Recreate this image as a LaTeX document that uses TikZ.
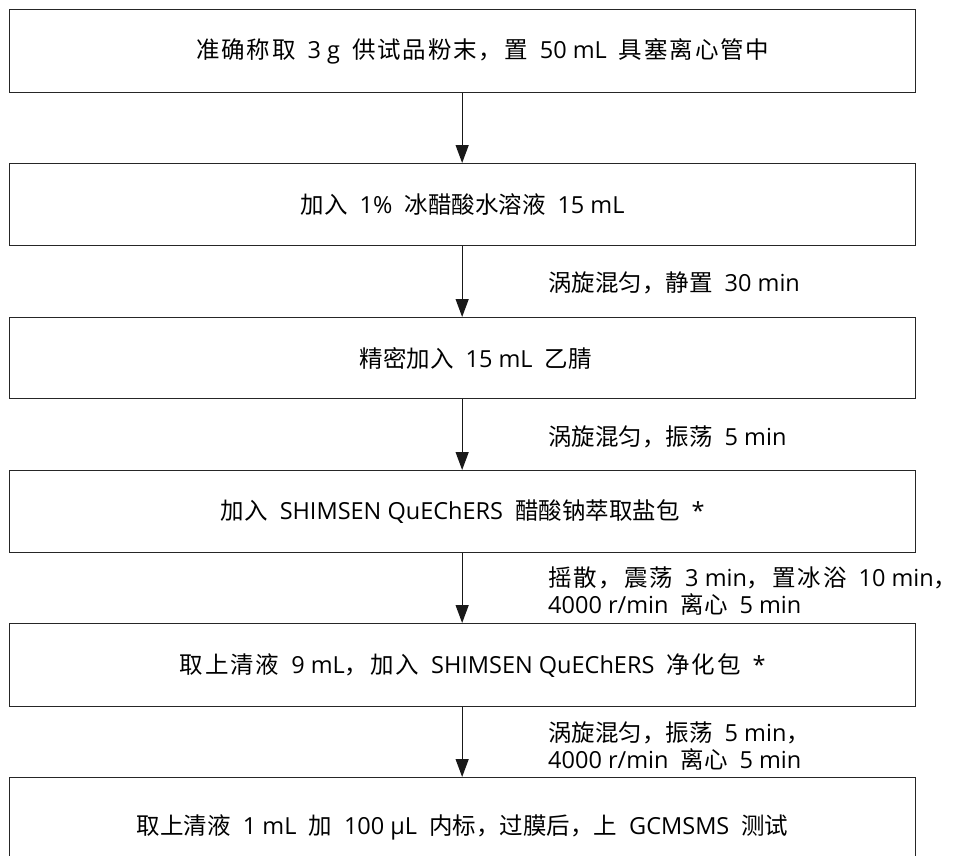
\documentclass[tikz,border=0pt]{standalone}
\usepackage{fontspec}
\setmainfont{Open Sans}
\newfontfamily\cjkfont{Noto Sans CJK SC}
\newfontfamily\cjkwide[LetterSpace=8]{Noto Sans CJK SC}
\newcommand{\zh}[1]{{\cjkfont #1}}
\newcommand{\zhw}[1]{{\cjkwide #1}}
\newcommand{\gap}{\hspace{12pt}}
\newcommand{\shiftr}[1]{\hspace*{#1}}
\usetikzlibrary{arrows.meta}
\begin{document}
\begin{tikzpicture}[x=1pt,y=-1pt,
  stepbox/.style={draw=black!85,line width=1.3pt,minimum width=906pt,inner sep=0pt,anchor=north west,font=\fontsize{23.5pt}{28pt}\selectfont},
  flow/.style={draw=black!90,line width=1.3pt,-{Triangle[length=18pt,width=13pt]}},
  lab/.style={anchor=west,inner sep=0pt,align=left,font=\fontsize{23.5pt}{26.5pt}\selectfont}]
\useasboundingbox (0,0) rectangle (966,856);
\node[stepbox,minimum height=83pt] (b1) at (9,9) {\shiftr{40pt}\zhw{准确称取}\gap 3 g\gap\zhw{供试品粉末，置}\gap 50 mL\gap\zhw{具塞离心管中}};
\node[stepbox,minimum height=82pt] (b2) at (9,163) {\zh{加入}\gap 1\%\gap\zh{冰醋酸水溶液}\gap 15 mL};
\node[stepbox,minimum height=81pt] (b3) at (9,317) {\shiftr{26pt}\zh{精密加入}\gap 15 mL\gap\zh{乙腈}};
\node[stepbox,minimum height=82pt] (b4) at (9,470) {\zh{加入}\gap SHIMSEN QuEChERS\gap\zh{醋酸钠萃取盐包}\gap *};
\node[stepbox,minimum height=83pt] (b5) at (9,623) {\shiftr{20pt}\zhw{取上清液}\gap 9 mL\zhw{，加入}\gap SHIMSEN QuEChERS\gap\zhw{净化包}\gap *};
\node[stepbox,minimum height=100pt] (b6) at (9,777) {\zh{取上清液}\gap 1 mL\gap\zh{加}\gap 100 μL\gap\zh{内标，过膜后，上}\gap GCMSMS\gap\zh{测试}};
\draw[flow] ([xshift=-0.5pt]b1.south) -- ([xshift=-0.5pt]b2.north);
\draw[flow] ([xshift=-0.5pt]b2.south) -- ([xshift=-0.5pt]b3.north);
\draw[flow] ([xshift=-0.5pt]b3.south) -- ([xshift=-0.5pt]b4.north);
\draw[flow] ([xshift=-0.5pt]b4.south) -- ([xshift=-0.5pt]b5.north);
\draw[flow] ([xshift=-0.5pt]b5.south) -- ([xshift=-0.5pt]b6.north);
\node[lab] (l2) at (548,283) {\zh{涡旋混匀，静置}\gap 30 min};
\node[lab] (l3) at (548,437) {\zh{涡旋混匀，振荡}\gap 5 min};
\node[lab] (l4) at (548,591) {\zhw{摇散，震荡}\gap 3 min\zhw{，置冰浴}\gap 10 min\zh{，}\\4000 r/min\gap\zh{离心}\gap 5 min};
\node[lab] (l5) at (548,746) {\zh{涡旋混匀，振荡}\gap 5 min\zh{，}\\4000 r/min\gap\zh{离心}\gap 5 min};
\end{tikzpicture}
\end{document}
